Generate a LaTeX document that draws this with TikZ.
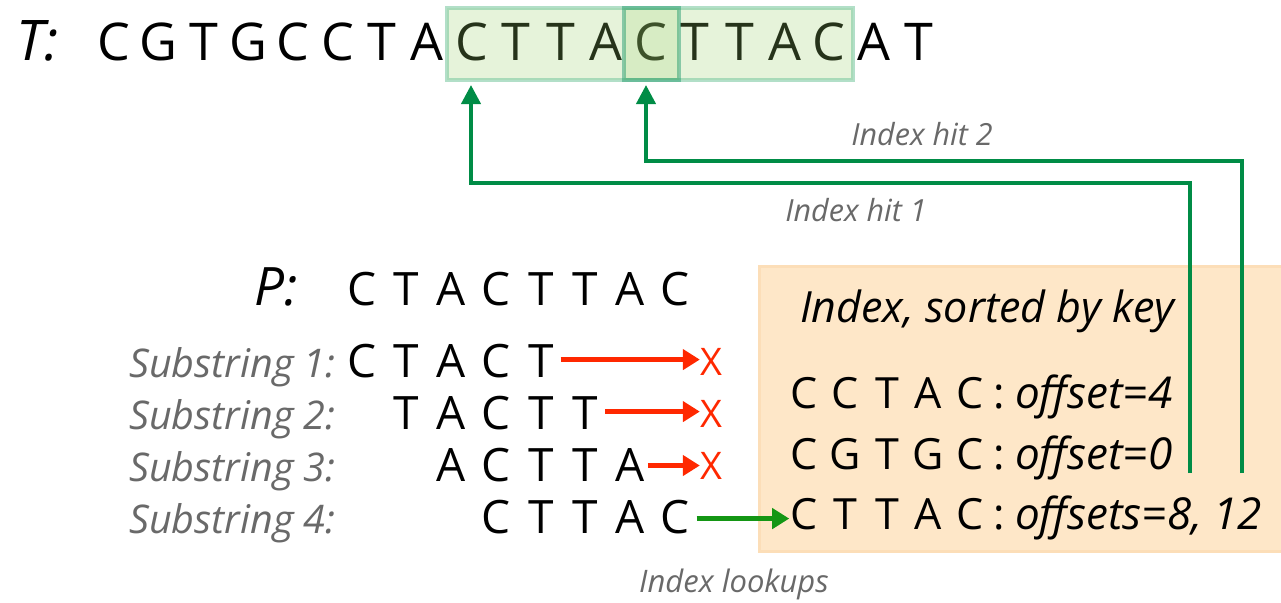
\documentclass[tikz,border=0pt]{standalone}
\usepackage{fontspec}
\setmainfont{Open Sans}
\newfontfamily\lblfont{Open Sans}
\usetikzlibrary{arrows.meta}
\definecolor{hitgreen}{RGB}{0,140,70}
\definecolor{lookgreen}{RGB}{20,150,20}
\definecolor{missred}{RGB}{255,40,0}
\definecolor{lblgray}{RGB}{105,105,105}
\definecolor{hlfill}{RGB}{155,207,107}
\definecolor{hledge}{RGB}{127,202,163}
\definecolor{hlcore}{RGB}{20,149,102}
\definecolor{idxfill}{RGB}{254,231,200}
\definecolor{idxedge}{RGB}{252,222,184}
\tikzset{
  dna/.style={anchor=base, inner sep=1pt, font=\fontsize{#1}{#1}\selectfont},
  dna/.default=46,
  seqlabel/.style={anchor=base west, inner sep=0pt, font=\itshape\fontsize{56}{56}\selectfont},
  graylbl/.style={inner sep=0pt, text=lblgray, font=\lblfont\itshape\fontsize{#1}{#1}\selectfont},
  offs/.style={anchor=base west, inner sep=0pt, font=\lblfont\itshape\fontsize{44}{44}\selectfont},
  hitline/.style={draw=hitgreen, line width=4pt, -{Triangle[length=19pt,width=19pt]}},
  missarrow/.style={draw=missred, line width=5pt, -{Triangle[length=17pt,width=20pt]}},
  lookarrow/.style={draw=lookgreen, line width=5pt, -{Triangle[length=17pt,width=20pt]}},
  missmark/.style={anchor=base, inner sep=0pt, text=missred, font=\fontsize{38}{38}\selectfont},
}
\begin{document}
\begin{tikzpicture}[x=1pt, y=-1pt]
\useasboundingbox (0,0) rectangle (1281,602);

% index table background
\node[draw=idxedge, fill=idxfill, line width=3pt, anchor=north west,
      minimum width=523pt, minimum height=285pt, inner sep=0pt] (idx) at (758,265) {};

% text T
\node[seqlabel] (tlab) at (16,60) {T:};
\foreach \ch [count=\i] in {C,G,T,G,C,C,T,A,C,T,T,A,C,T,T,A,C,A,T}
  \node[dna=52] (t\i) at ({114+44.7*(\i-1)},60) {\ch};

% highlighted occurrences of CTTAC in T
\node[draw=hledge, draw opacity=0.6, fill=hlfill, fill opacity=0.25, line width=4pt,
      minimum width=406pt, minimum height=72pt, inner sep=0pt] (occ) at (650,44) {};
\node[draw=hlcore, draw opacity=0.45, fill=hlfill, fill opacity=0.2, line width=4pt,
      minimum width=55pt, minimum height=72pt, inner sep=0pt] (occ2) at (651.5,44) {};

% pattern P
\node[seqlabel, font=\itshape\fontsize{53}{53}\selectfont] (plab) at (254,305) {P:};
\foreach \ch [count=\i] in {C,T,A,C,T,T,A,C}
  \node[dna] (p\i) at ({362+44.7*(\i-1)},305) {\ch};

% substrings of P
\node[graylbl=39.5, anchor=base west] (sl1) at (129,377) {Substring 1:};
\node[graylbl=39.5, anchor=base west] (sl2) at (129,429) {Substring 2:};
\node[graylbl=39.5, anchor=base west] (sl3) at (129,481) {Substring 3:};
\node[graylbl=39.5, anchor=base west] (sl4) at (129,533) {Substring 4:};
\foreach \ch [count=\i] in {C,T,A,C,T}
  \node[dna] (sa\i) at ({362+44.7*(\i-1)},377) {\ch};
\foreach \ch [count=\i] in {T,A,C,T,T}
  \node[dna] (sb\i) at ({406.7+44.7*(\i-1)},429) {\ch};
\foreach \ch [count=\i] in {A,C,T,T,A}
  \node[dna] (sc\i) at ({451.4+44.7*(\i-1)},481) {\ch};
\foreach \ch [count=\i] in {C,T,T,A,C}
  \node[dna] (sd\i) at ({496.1+44.7*(\i-1)},533) {\ch};

% failed lookups
\node[missmark] (x1) at (711,375) {X};
\node[missmark] (x2) at (711,427) {X};
\node[missmark] (x3) at (711,479) {X};
\draw[missarrow] ([xshift=6pt,yshift=1pt]sa5.east) -- ([yshift=1pt]sa5.east -| x1.west);
\draw[missarrow] ([xshift=6pt,yshift=1pt]sb5.east) -- ([yshift=1pt]sb5.east -| x2.west);
\draw[missarrow] ([xshift=2pt,yshift=-1pt]sc5.east) -- ([yshift=-1pt]sc5.east -| x3.west);

% index rows
\foreach \ch [count=\i] in {C,C,T,A,C}
  \node[dna=43] (ia\i) at ({804+41.5*(\i-1)},408) {\ch};
\foreach \ch [count=\i] in {C,G,T,G,C}
  \node[dna=43] (ib\i) at ({804+41.5*(\i-1)},469) {\ch};
\foreach \ch [count=\i] in {C,T,T,A,C}
  \node[dna=43] (ic\i) at ({804+41.5*(\i-1)},529) {\ch};
\node[dna=43] (ca) at (999,408) {:};
\node[dna=43] (cb) at (999,469) {:};
\node[dna=43] (cc) at (999,529) {:};
\node[offs] (oa) at (1015,408) {offset=4};
\node[offs] (ob) at (1015,469) {offset=0};
\node[offs] (oc) at (1015,529) {offsets=8, 12};
\node[anchor=base west, inner sep=0pt, font=\lblfont\itshape\fontsize{43}{43}\selectfont]
  (idxtitle) at (800,322) {Index, sorted by key};

% successful lookup
\draw[lookarrow] ([xshift=6pt,yshift=-2pt]sd5.east) -- ([yshift=-2pt]sd5.east -| ic1.west);
\node[graylbl=31, anchor=base] (look) at (734,592) {Index lookups};

% index hits back into T
\coordinate (h1foot) at (1190,473);
\coordinate (h2foot) at (1242,473);
\coordinate (h1bend) at (471,183);
\coordinate (h2bend) at (646,161);
\draw[hitline] (h1foot) |- (h1bend) -- ([yshift=-3pt]h1bend |- occ.south);
\draw[hitline] (h2foot) |- (h2bend) -- ([yshift=-3pt]h2bend |- occ.south);
\node[graylbl=30.5, anchor=base] (hit1) at (856,221) {Index hit 1};
\node[graylbl=30.5, anchor=base] (hit2) at (922,145) {Index hit 2};
\end{tikzpicture}
\end{document}
